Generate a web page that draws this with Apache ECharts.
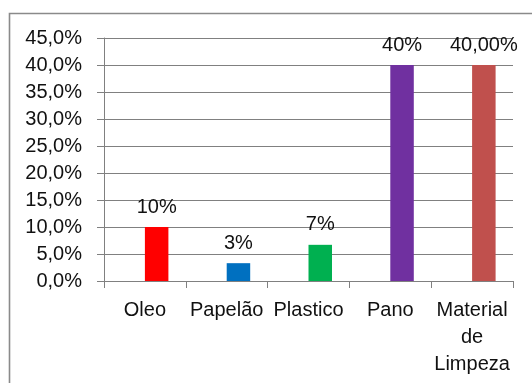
<!DOCTYPE html>
<html>
<head>
<meta charset="utf-8">
<script src="https://cdn.jsdelivr.net/npm/echarts@6/dist/echarts.min.js"></script>
<style>
html,body{margin:0;padding:0;background:#fff;}
#c{width:532px;height:383px;}
</style>
</head>
<body>
<div id="c"></div>
<script>
const categories = ["Oleo", "Papelão", "Plastico", "Pano", "Material\nde\nLimpeza"];
const values = [10, 3.3, 6.7, 40, 40];
const valueLabels = ["10%", "3%", "7%", "40%", "40,00%"];
const yTicks = { min: 0, max: 45, interval: 5 };

const barColors = ["#FF0000", "#0070C0", "#00B050", "#7030A0", "#C0504D"];
const FONT = "Liberation Sans";
const FS = 20;

const chart = echarts.init(document.getElementById('c'), null, { renderer: 'canvas' });
chart.setOption({
  backgroundColor: '#ffffff',
  animation: false,
  textStyle: { fontFamily: FONT },
  graphic: [{
    type: 'rect',
    shape: { x: 9.5, y: 13.5, width: 700, height: 600 },
    style: { fill: 'none', stroke: '#8a8a8a', lineWidth: 1.6 },
    silent: true
  }],
  grid: { left: 104, top: 38, right: 19, bottom: 102 },
  xAxis: {
    type: 'category',
    data: categories,
    axisLine: { lineStyle: { color: '#808080', width: 1 } },
    axisTick: { show: true, length: 7, lineStyle: { color: '#808080' } },
    axisLabel: {
      color: '#111', fontFamily: FONT, fontSize: FS, lineHeight: 27,
      margin: 16, interval: 0
    },
    splitLine: { show: false }
  },
  yAxis: {
    type: 'value',
    min: yTicks.min, max: yTicks.max, interval: yTicks.interval,
    axisLine: { show: true, lineStyle: { color: '#808080', width: 1 } },
    axisTick: { show: true, length: 7, lineStyle: { color: '#808080' } },
    axisLabel: {
      color: '#111', fontFamily: FONT, fontSize: FS, margin: 22,
      formatter: v => v.toFixed(1).replace('.', ',') + '%'
    },
    splitLine: { show: true, lineStyle: { color: '#808080', width: 1 } }
  },
  series: [
    {
      type: 'bar',
      data: categories.map(() => null),
      barWidth: 23.5,
      barGap: '0%'
    },
    {
      type: 'bar',
      barWidth: 23.5,
      barGap: '0%',
      data: values.map((v, i) => ({ value: v, itemStyle: { color: barColors[i] } })),
      label: {
        show: true, position: 'top', distance: 10,
        color: '#111', fontFamily: FONT, fontSize: FS,
        formatter: p => valueLabels[p.dataIndex]
      }
    }
  ]
});
</script>
</body>
</html>
